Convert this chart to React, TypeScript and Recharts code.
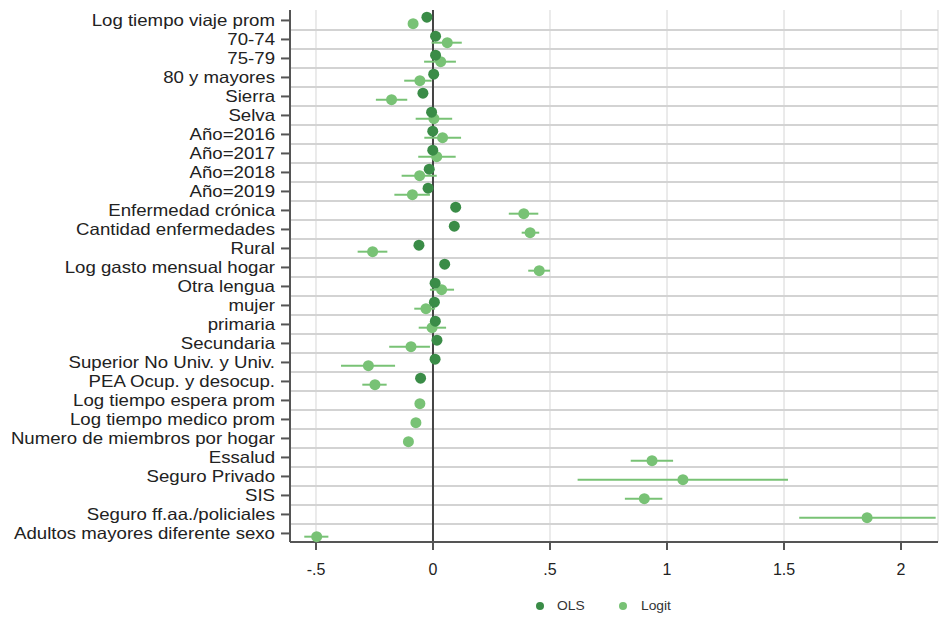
import React from "react";
import {
  ScatterChart,
  Scatter,
  XAxis,
  YAxis,
  CartesianGrid,
  ReferenceLine,
  ErrorBar
} from "recharts";

// Variables listed top to bottom
const labels = [
  "Log tiempo viaje prom",
  "70-74",
  "75-79",
  "80 y mayores",
  "Sierra",
  "Selva",
  "Año=2016",
  "Año=2017",
  "Año=2018",
  "Año=2019",
  "Enfermedad crónica",
  "Cantidad enfermedades",
  "Rural",
  "Log gasto mensual hogar",
  "Otra lengua",
  "mujer",
  "primaria",
  "Secundaria",
  "Superior No Univ. y Univ.",
  "PEA Ocup. y desocup.",
  "Log tiempo espera prom",
  "Log tiempo medico prom",
  "Numero de miembros por hogar",
  "Essalud",
  "Seguro Privado",
  "SIS",
  "Seguro ff.aa./policiales",
  "Adultos mayores diferente sexo"
];

// OLS estimates (null = not shown)
const olsCoef = [
  -0.026, 0.011, 0.011, 0.003, -0.043, -0.006, -0.001, -0.001, -0.016, -0.021,
  0.097, 0.091, -0.06, 0.05, 0.009, 0.006, 0.01, 0.017, 0.009, -0.053,
  null, null, null, null, null, null, null, null
];

// Logit estimates with 95% CI
const logitCoef = [
  -0.085, 0.061, 0.033, -0.056, -0.177, 0.004, 0.041, 0.016, -0.057, -0.088,
  0.388, 0.415, -0.258, 0.454, 0.037, -0.03, -0.004, -0.094, -0.276, -0.248,
  -0.056, -0.073, -0.105, 0.936, 1.068, 0.903, 1.855, -0.497
];
const logitLow = [
  -0.085, -0.006, -0.038, -0.123, -0.244, -0.074, -0.037, -0.063, -0.134, -0.165,
  0.324, 0.379, -0.322, 0.407, -0.013, -0.08, -0.061, -0.187, -0.393, -0.302,
  -0.056, -0.073, -0.105, 0.845, 0.618, 0.82, 1.565, -0.55
];
const logitHigh = [
  -0.085, 0.123, 0.098, -0.006, -0.11, 0.082, 0.12, 0.097, 0.016, -0.013,
  0.45, 0.454, -0.195, 0.5, 0.09, 0.009, 0.056, -0.013, -0.162, -0.198,
  -0.056, -0.073, -0.105, 1.026, 1.517, 0.98, 2.148, -0.447
];

const xTicks = [-0.5, 0, 0.5, 1, 1.5, 2];
const X_DOMAIN = [-0.611, 2.158];
const Y_DOMAIN = [-0.55, 27.45];

const OLS_COLOR = "#3a8c47";
const LOGIT_COLOR = "#78c275";
const ROW_LINE = "#d3d3d3";
const FONT = "'Liberation Sans', Arial, sans-serif";

const olsData = labels
  .map((name, i) => ({ name, x: olsCoef[i], y: i - 0.17 }))
  .filter((d) => d.x !== null);

const logitData = labels.map((name, i) => ({
  name,
  x: logitCoef[i],
  y: i + 0.17,
  err: [logitCoef[i] - logitLow[i], logitHigh[i] - logitCoef[i]]
}));

const rowIndex = labels.map((_, i) => i);
const rowBreaks = labels.slice(1).map((_, i) => i + 0.5);

const fmtX = (v: number) => {
  if (v === 0) return "0";
  const s = String(v);
  return s.replace(/^0\./, ".").replace(/^-0\./, "-.");
};

const YTick = (props: any) => {
  const { x, y, payload } = props;
  return (
    <g transform={`translate(${x},${y})`}>
      <text
        transform="scale(1.13,1)"
        textAnchor="end"
        dy="0.36em"
        fontSize={16.5}
        fill="#222"
        fontFamily={FONT}
      >
        {labels[payload.value]}
      </text>
    </g>
  );
};

const Dot = (color: string) => (props: any) =>
  <circle cx={props.cx} cy={props.cy} r={5.5} fill={color} />;

export default function App() {
  return (
    <div style={{ position: "absolute", left: 0, top: 0, width: 940, height: 617, background: "#fff" }}>
      <ScatterChart
        width={940}
        height={617}
        margin={{ top: 10, right: 2, bottom: 35, left: 0 }}
      >
        <CartesianGrid horizontal={false} stroke="#e4e4e4" strokeWidth={1.5} />
        <XAxis
          type="number"
          dataKey="x"
          domain={X_DOMAIN}
          ticks={xTicks}
          allowDataOverflow
          tickFormatter={fmtX}
          height={40}
          tickSize={8}
          tickMargin={14}
          stroke="#555"
          strokeWidth={2}
          tick={{ fill: "#222", fontSize: 16, fontFamily: FONT }}
        />
        <YAxis
          type="number"
          dataKey="y"
          domain={Y_DOMAIN}
          ticks={rowIndex}
          reversed
          interval={0}
          width={290}
          tickSize={9}
          tickMargin={6}
          stroke="#555"
          strokeWidth={2}
          tick={<YTick />}
        />
        {rowBreaks.map((v) => (
          <ReferenceLine
            key={`row-${v}`}
            y={v}
            ifOverflow="extendDomain"
            stroke={ROW_LINE}
            strokeWidth={2}
          />
        ))}
        <ReferenceLine x={0} stroke="#444" strokeWidth={2} />
        <Scatter
          name="Logit"
          data={logitData}
          fill={LOGIT_COLOR}
          shape={Dot(LOGIT_COLOR)}
          isAnimationActive={false}
        >
          <ErrorBar dataKey="err" direction="x" width={0} stroke={LOGIT_COLOR} strokeWidth={2} />
        </Scatter>
        <Scatter
          name="OLS"
          data={olsData}
          fill={OLS_COLOR}
          shape={Dot(OLS_COLOR)}
          isAnimationActive={false}
        />
      </ScatterChart>
      {/* legend */}
      <div
        style={{
          position: "absolute",
          top: 599,
          left: 536,
          display: "flex",
          alignItems: "center",
          fontFamily: FONT,
          fontSize: 12,
          color: "#333"
        }}
      >
        <span style={{ width: 8, height: 8, borderRadius: 4, background: OLS_COLOR, display: "inline-block" }} />
        <span style={{ marginLeft: 13, display: "inline-block", transform: "scaleX(1.15)", transformOrigin: "left" }}>OLS</span>
        <span style={{ marginLeft: 38, width: 8, height: 8, borderRadius: 4, background: LOGIT_COLOR, display: "inline-block" }} />
        <span style={{ marginLeft: 14, display: "inline-block", transform: "scaleX(1.15)", transformOrigin: "left" }}>Logit</span>
      </div>
    </div>
  );
}
